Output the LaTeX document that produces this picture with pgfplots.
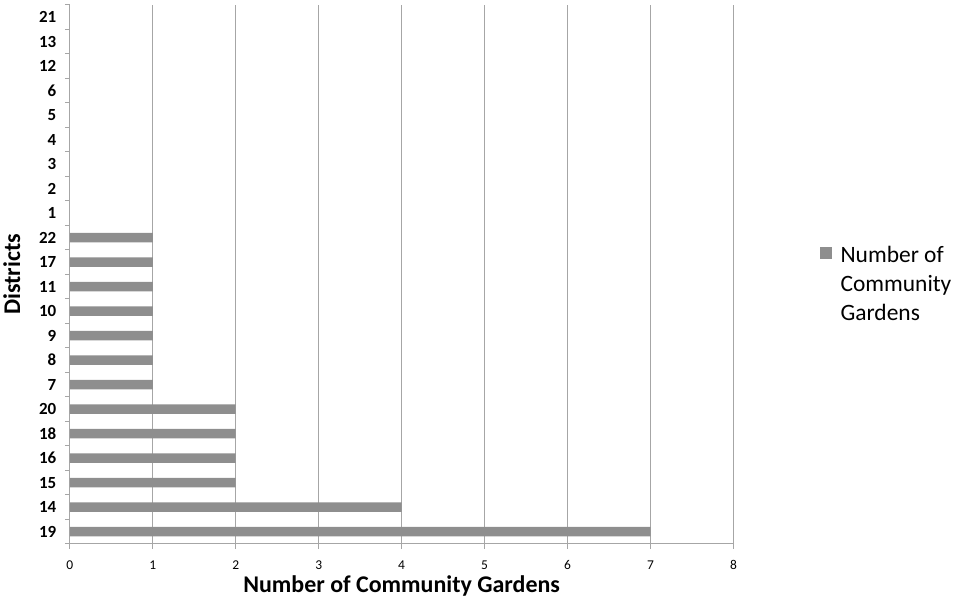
\documentclass[border=0pt]{standalone}
\usepackage{fontspec}
\setmainfont{Carlito}
\usepackage{pgfplots}
\pgfplotsset{compat=1.18}
\definecolor{bargray}{HTML}{8E8E8E}
\definecolor{gridgray}{HTML}{A6A6A6}
\begin{document}
\begin{tikzpicture}
\begin{axis}[
  name=ax,
  at={(0,0)}, anchor=south west,
  scale only axis,
  width=665pt, height=540pt,
  xbar, bar width=9.5pt,
  xmin=0, xmax=8,
  ymin=-0.5, ymax=21.5,
  xtick={0,...,8},
  ytick={0,...,21},
  yticklabels={19,14,15,16,18,20,7,8,9,10,11,17,22,1,2,3,4,5,6,12,13,21},
  minor ytick={-0.5,0.5,...,21.5},
  /pgf/number format/assume math mode=true,
  axis x line*=bottom,
  axis y line*=left,
  axis line style={gridgray, line width=1pt},
  xmajorgrids,
  major grid style={gridgray, line width=1pt},
  tick align=outside,
  major y tick style={draw=none},
  major x tick style={gridgray, line width=1pt},
  minor y tick style={gridgray, line width=1pt},
  major tick length=5pt,
  minor tick length=5pt,
  yticklabel style={font=\fontsize{17}{20}\selectfont\bfseries, xshift=-5pt},
  xticklabel style={font=\fontsize{13.5}{16}\selectfont, yshift=-8pt},
  xlabel={Number of Community Gardens},
  ylabel={Districts},
  xlabel style={font=\fontsize{24}{28}\selectfont\bfseries, yshift=1pt},
  ylabel style={font=\fontsize{24}{28}\selectfont\bfseries, yshift=12pt},
  legend style={draw=none, at={(1.125,0.54)}, anchor=west, font=\fontsize{23.5}{29}\selectfont, column sep=7pt},
  legend cell align=left,
  legend image code/.code={\fill[bargray] (0pt,-6pt) rectangle (12pt,6pt);},
]
\addplot[fill=bargray, draw=none] coordinates {
  (7,0) (4,1) (2,2) (2,3) (2,4) (2,5) (1,6) (1,7) (1,8) (1,9) (1,10) (1,11) (1,12)
};
\addlegendentry{\begin{tabular}[t]{@{}l@{}}Number of\\Community\\Gardens\end{tabular}}
\end{axis}
\path (ax.south west) ++(-68pt,-53pt) rectangle ++(957pt,598pt);
\end{tikzpicture}
\end{document}
